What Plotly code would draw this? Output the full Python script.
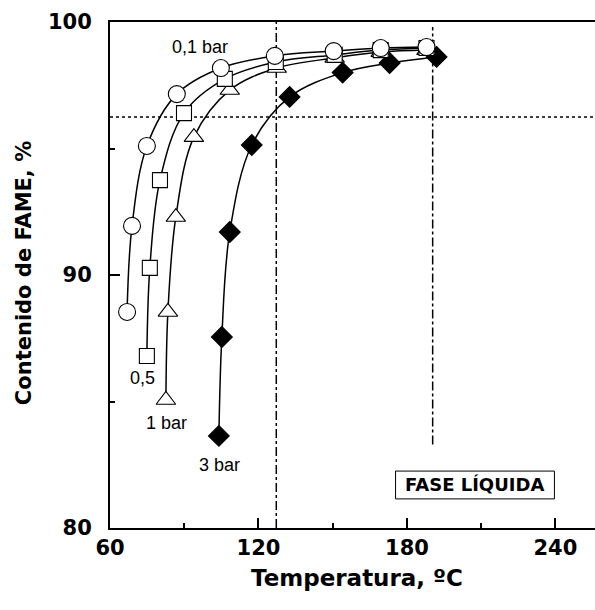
import plotly.graph_objects as go

# ---- data ----
t_01 = [66.9, 68.9, 74.9, 87.0, 104.8, 126.6, 150.4, 169.4, 187.9]
y_01 = [88.54, 91.94, 95.10, 97.15, 98.18, 98.66, 98.85, 98.97, 99.01]

t_05 = [74.9, 76.1, 80.2, 89.9, 106.4, 127.0, 150.8, 169.4, 187.9]
y_05 = [86.80, 90.28, 93.75, 96.40, 97.75, 98.42, 98.70, 98.89, 98.97]

t_1 = [82.6, 83.4, 86.6, 93.9, 108.4, 127.4, 150.8, 169.4, 187.9]
y_1 = [85.06, 88.54, 92.29, 95.45, 97.31, 98.18, 98.58, 98.81, 98.89]

t_3 = [104.0, 105.2, 108.4, 117.3, 132.6, 154.0, 173.0, 192.0]
y_3 = [83.64, 87.55, 91.70, 95.14, 97.04, 98.00, 98.38, 98.62]

x_ticks = [60, 120, 180, 240]
y_ticks = [80, 90, 100]

h_limit = 96.25        # horizontal dotted reference
v_limit1 = 127.2       # first dash-dot vertical
v_limit2 = 190.4       # second dash-dot vertical
v_limit2_low = 83.3

series_labels = ["0,1 bar", "0,5", "1 bar", "3 bar"]
label_pos = [(96.3, 99.0), (73.3, 85.93), (83.0, 84.15), (104.4, 82.49)]

FONT = "Liberation Sans, Arial, sans-serif"
BFONT = "DejaVu Sans, sans-serif"

fig = go.Figure()

def add_series(tx, ty, symbol, fill, size):
    fig.add_trace(go.Scatter(
        x=tx, y=ty, mode="lines+markers",
        line=dict(color="black", width=1.5, shape="spline", smoothing=1.0),
        marker=dict(symbol=symbol, size=size, color=fill,
                    line=dict(color="black", width=1.1)),
        showlegend=False, cliponaxis=False))

add_series(t_3, y_3, "diamond", "black", 16)
add_series(t_1, y_1, "triangle-up", "white", 17)
add_series(t_05, y_05, "square", "white", 15)
add_series(t_01, y_01, "circle", "white", 17)

# reference lines
fig.add_shape(type="line", x0=60, x1=256, y0=h_limit, y1=h_limit,
              line=dict(color="black", width=1.5, dash="dot"), layer="below")
fig.add_shape(type="line", x0=v_limit1, x1=v_limit1, y0=80, y1=100,
              line=dict(color="black", width=1.5, dash="dashdot"), layer="below")
fig.add_shape(type="line", x0=v_limit2, x1=v_limit2, y0=v_limit2_low, y1=99.8,
              line=dict(color="black", width=1.5, dash="dashdot"), layer="below")

# FASE LÍQUIDA box
fig.add_shape(type="rect", x0=175.4, x1=239.6, y0=81.15, y1=82.25,
              line=dict(color="black", width=1), fillcolor="white")
fig.add_annotation(x=(175.4 + 239.6) / 2, y=81.7, text="<b>FASE LÍQUIDA</b>",
                   showarrow=False, font=dict(family=BFONT, size=18, color="black"))

for txt, (lx, ly) in zip(series_labels, label_pos):
    fig.add_annotation(x=lx, y=ly, text=txt, showarrow=False,
                       xanchor="center", yanchor="middle",
                       font=dict(family=FONT, size=18, color="black"))

# axis titles
fig.add_annotation(xref="paper", yref="paper", x=0.509, y=-0.099,
                   xanchor="center", yanchor="middle",
                   text="<b>Temperatura, ºC</b>", showarrow=False,
                   font=dict(family=BFONT, size=23, color="black"))
fig.add_annotation(xref="paper", yref="paper", x=-0.177, y=0.504,
                   xanchor="center", yanchor="middle",
                   text="<b>Contenido de FAME, %</b>", showarrow=False, textangle=-90,
                   font=dict(family=BFONT, size=21, color="black"))

fig.update_xaxes(range=[60, 256], tickvals=x_ticks, ticktext=[f"<b>{v}</b>" for v in x_ticks],
                 ticks="inside", ticklen=10, tickwidth=1.5, tickcolor="black",
                 minor=dict(tickvals=[90, 150, 210], ticks="inside", ticklen=5,
                            tickwidth=1.5, tickcolor="black"),
                 showline=True, linecolor="black", linewidth=2, mirror=True,
                 showgrid=False, zeroline=False,
                 tickfont=dict(family=BFONT, size=21, color="black"))
fig.update_yaxes(range=[80, 100], tickvals=y_ticks, ticktext=[f"<b>{v}</b>" for v in y_ticks],
                 ticks="inside", ticklen=10, tickwidth=1.5, tickcolor="black",
                 minor=dict(tickvals=[85, 95], ticks="inside", ticklen=5,
                            tickwidth=1.5, tickcolor="black"),
                 showline=True, linecolor="black", linewidth=2, mirror=False,
                 showgrid=False, zeroline=False, ticklabelstandoff=12,
                 tickfont=dict(family=BFONT, size=21, color="black"))

fig.update_layout(width=595, height=610, margin=dict(l=110, r=0, t=22, b=82),
                  paper_bgcolor="white", plot_bgcolor="white",
                  font=dict(family=FONT, color="black"))

fig.write_html("out.html")
